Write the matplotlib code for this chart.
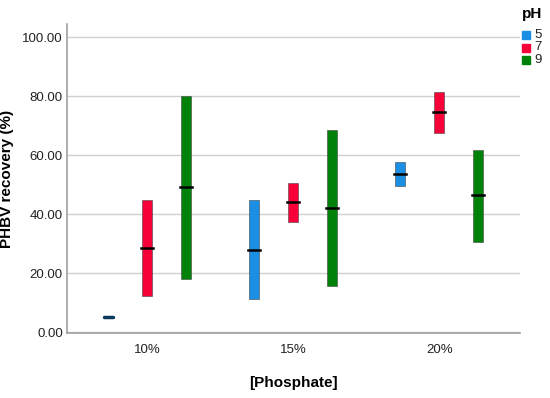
import numpy as np
import matplotlib
matplotlib.use('Agg')
import matplotlib.pyplot as plt
from matplotlib.patches import Rectangle

plt.rcParams['font.family'] = ['Liberation Sans', 'DejaVu Sans']

# data: phosphate groups, pH levels, (low, median, high) per bar
phosphate = ['10%', '15%', '20%']
ph_levels = ['5', '7', '9']
colors = ['#1b8fe4', '#f80038', '#00820a']

low = [[4.8, 12.2, 18.0],
       [11.1, 37.4, 15.6],
       [49.4, 67.6, 30.7]]
median = [[5.2, 28.5, 49.2],
          [27.9, 44.2, 42.1],
          [53.6, 74.6, 46.4]]
high = [[5.6, 44.7, 80.0],
        [44.9, 50.7, 68.7],
        [57.7, 81.5, 61.9]]

fig = plt.figure(figsize=(5.5, 3.98), dpi=100)
ax = fig.add_axes([0.122, 0.163, 0.823, 0.777])

offsets = [-0.267, 0.0, 0.267]
bw = 0.068
for i in range(len(phosphate)):
    for j in range(len(ph_levels)):
        x = i + offsets[j]
        lo, md, hi = low[i][j], median[i][j], high[i][j]
        if i == 0 and j == 0:
            # tiny range: dark marker
            ax.plot([x - 0.03, x + 0.03], [md, md], color='#0c3a5c',
                    lw=2.5, solid_capstyle='round', zorder=4)
            continue
        ax.bar(x, hi - lo, bottom=lo, width=bw, color=colors[j],
               edgecolor='#444444', linewidth=0.4, zorder=3)
        ax.plot([x - bw * 0.6, x + bw * 0.6], [md, md], color='black',
                lw=1.8, zorder=4)

ax.set_xlim(-0.55, 2.55)
ax.set_ylim(-0.3, 104.5)
ax.set_xticks(range(len(phosphate)))
ax.set_xticklabels(phosphate)
ax.set_yticks(np.arange(0, 101, 20))
ax.set_yticklabels(['%.2f' % v for v in np.arange(0, 101, 20)])
ax.tick_params(length=0, labelsize=9.5, colors='#222222')
ax.tick_params(axis='y', pad=3)
ax.tick_params(axis='x', pad=8)
ax.yaxis.grid(True, color='#d0d0d0', lw=1.0, zorder=0)
ax.set_axisbelow(True)
for s in ['top', 'right']:
    ax.spines[s].set_visible(False)
for s in ['left', 'bottom']:
    ax.spines[s].set_color('#a0a0a0')
    ax.spines[s].set_linewidth(1.2)

ax.set_ylabel('PHBV recovery (%)', fontsize=11, fontweight='bold')
ax.yaxis.set_label_coords(-0.118, 0.5)
ax.set_xlabel('[Phosphate]', fontsize=11, fontweight='bold', labelpad=14)

# legend
fig.text(522 / 550, 1 - 14 / 398, 'pH', fontsize=11, fontweight='bold',
         ha='left', va='center')
for k, (lab, c) in enumerate(zip(ph_levels, colors)):
    yc = 35 + 12.5 * k
    fig.patches.append(Rectangle((522 / 550, 1 - (yc + 4) / 398), 8 / 550, 8 / 398,
                                 transform=fig.transFigure, color=c))
    fig.text(534 / 550, 1 - yc / 398, lab, fontsize=9.5, ha='left', va='center',
             color='#222222')

fig.savefig('out.png', dpi=100)
